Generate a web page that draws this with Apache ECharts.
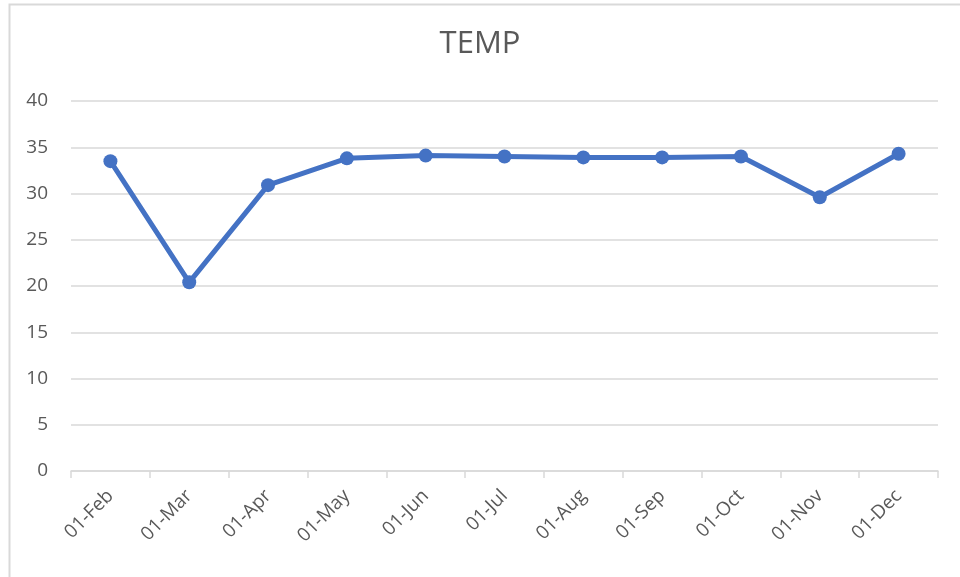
<!DOCTYPE html>
<html>
<head>
    <meta charset="utf-8">
    <title>TEMP</title>
    <script src="https://fastly.jsdelivr.net/npm/echarts@6/dist/echarts.min.js"></script>
    <style>
        html, body { margin: 0; padding: 0; background: #fff; }
    </style>
</head>
<body>
    <div id="main" style="width: 960px;height:577px;"></div>
    <script type="text/javascript">
        var dates = ['01-Feb', '01-Mar', '01-Apr', '01-May', '01-Jun', '01-Jul',
                     '01-Aug', '01-Sep', '01-Oct', '01-Nov', '01-Dec'];
        var temps = [33.5, 20.4, 30.9, 33.8, 34.1, 34.0, 33.9, 33.9, 34.0, 29.6, 34.3];
        var yTicks = { min: 0, max: 40, step: 5 };

        var myChart = echarts.init(document.getElementById('main'));

        var textColor = '#595959';
        var lineColor = '#d9d9d9';

        option = {
  animation: false,
  graphic: [
    {
      // chart area frame
      type: 'rect',
      left: 7, top: 2,
      shape: { width: 960, height: 600 },
      style: { fill: 'none', stroke: lineColor, lineWidth: 2 }
    }
  ],
  title: {
    text: 'TEMP',
    left: 'center',
    top: 24,
    textStyle: {
      fontFamily: 'Open Sans',
      fontWeight: 'normal',
      fontSize: 31,
      color: textColor
    }
  },
  grid: {
    left: 71,
    right: 22,
    top: 101,
    bottom: 106
  },
  xAxis: {
    type: 'category',
    data: dates,
    boundaryGap: true,
    axisLine: { lineStyle: { color: lineColor, width: 1.5 } },
    axisTick: { show: true, length: 7, lineStyle: { color: lineColor, width: 1.5 } },
    axisLabel: {
      rotate: 45,
      margin: 22,
      interval: 0,
      fontFamily: 'Open Sans',
      fontSize: 19,
      color: textColor
    }
  },
  yAxis: {
    type: 'value',
    min: yTicks.min,
    max: yTicks.max,
    interval: yTicks.step,
    axisLine: { show: false },
    axisTick: { show: false },
    splitLine: { lineStyle: { color: lineColor, width: 1.5 } },
    axisLabel: {
      margin: 23,
      fontFamily: 'Open Sans',
      fontSize: 19,
      color: textColor
    }
  },
  series: [
    {
      name: 'TEMP',
      type: 'line',
      data: temps,
      symbol: 'circle',
      symbolSize: 14,
      lineStyle: { color: '#4472C4', width: 5 },
      itemStyle: { color: '#4472C4' }
    }
  ]
};

        myChart.setOption(option);
    </script>
</body>
</html>
